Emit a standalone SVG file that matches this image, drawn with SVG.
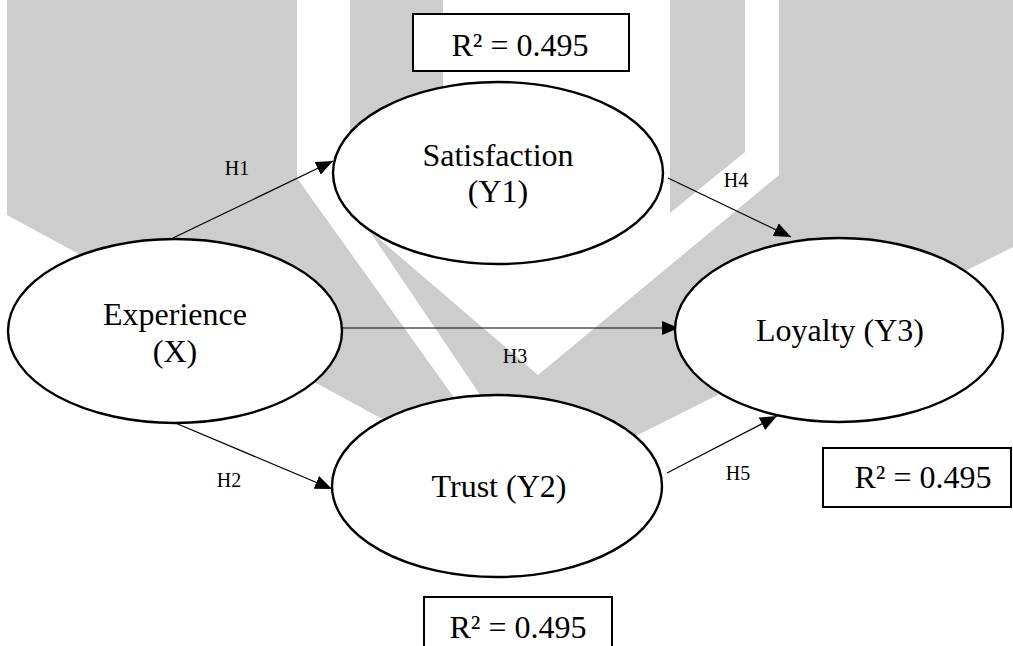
<svg xmlns="http://www.w3.org/2000/svg" width="1013" height="646" viewBox="0 0 1013 646">
  <style>
    .bg { fill: #ffffff; }
    .mark { fill: #cdcdcd; }
    .cut { fill: #ffffff; }
    .node { fill: #ffffff; stroke: #000000; stroke-width: 2.4; }
    .box { fill: #ffffff; stroke: #000000; stroke-width: 2; }
    .edge { stroke: #000000; stroke-width: 1.2; fill: none; marker-end: url(#arrow); }
    .name { font-family: "Liberation Serif", "Times New Roman", serif; font-size: 32px; fill: #000000; text-anchor: middle; }
    .hyp { font-family: "Liberation Serif", "Times New Roman", serif; font-size: 20px; fill: #000000; text-anchor: middle; }
  </style>
  <defs>
    <marker id="arrow" markerUnits="userSpaceOnUse" markerWidth="18" markerHeight="14" refX="17" refY="7" orient="auto">
      <path d="M0,0 L17,7 L0,14 Z" fill="#000000"/>
    </marker>
  </defs>

  <rect class="bg" x="0" y="0" width="1013" height="646"/>

  <!-- background emblem -->
  <g id="emblem">
    <polygon class="mark" points="7,0 1013,0 1013,247 520,494 7,215"/>
    <polygon class="cut" points="297,0 350,0 350,202 497,420 470,420 297,178"/>
    <polygon class="cut" points="443,0 779,0 779,175 538,375 370,231 443,100"/>
    <polygon class="mark" points="670,0 745,0 745,152 670,213"/>
  </g>

  <!-- paths between constructs -->
  <g id="connectors">
    <line class="edge" x1="173" y1="238" x2="333" y2="161"/>
    <line class="edge" x1="173" y1="422" x2="332" y2="489"/>
    <line class="edge" x1="342" y1="328" x2="679" y2="328"/>
    <line class="edge" x1="668" y1="178" x2="791" y2="237"/>
    <line class="edge" x1="667" y1="473" x2="777" y2="416"/>
    <text class="hyp" x="237" y="175">H1</text>
    <text class="hyp" x="229" y="487">H2</text>
    <text class="hyp" x="515" y="363">H3</text>
    <text class="hyp" x="736" y="187">H4</text>
    <text class="hyp" x="738" y="480">H5</text>
  </g>

  <g id="experience">
    <ellipse class="node" cx="175" cy="331" rx="167" ry="92"/>
    <text class="name" x="175" y="325">Experience</text>
    <text class="name" x="175" y="362">(X)</text>
  </g>

  <g id="satisfaction">
    <ellipse class="node" cx="498" cy="173" rx="165" ry="91"/>
    <text class="name" x="498" y="166">Satisfaction</text>
    <text class="name" x="498" y="202">(Y1)</text>
  </g>

  <g id="trust">
    <ellipse class="node" cx="497" cy="486" rx="165" ry="91"/>
    <text class="name" x="499" y="497">Trust (Y2)</text>
  </g>

  <g id="loyalty">
    <ellipse class="node" cx="839" cy="330" rx="164" ry="92"/>
    <text class="name" x="840" y="341">Loyalty (Y3)</text>
  </g>

  <g id="r2-satisfaction">
    <rect class="box" x="413" y="14" width="216" height="57"/>
    <text class="name" x="520" y="56">R² = 0.495</text>
  </g>

  <g id="r2-loyalty">
    <rect class="box" x="823" y="448" width="188" height="59"/>
    <text class="name" x="923" y="488">R² = 0.495</text>
  </g>

  <g id="r2-trust">
    <rect class="box" x="424" y="597" width="188" height="70"/>
    <text class="name" x="518" y="638">R² = 0.495</text>
  </g>
</svg>
